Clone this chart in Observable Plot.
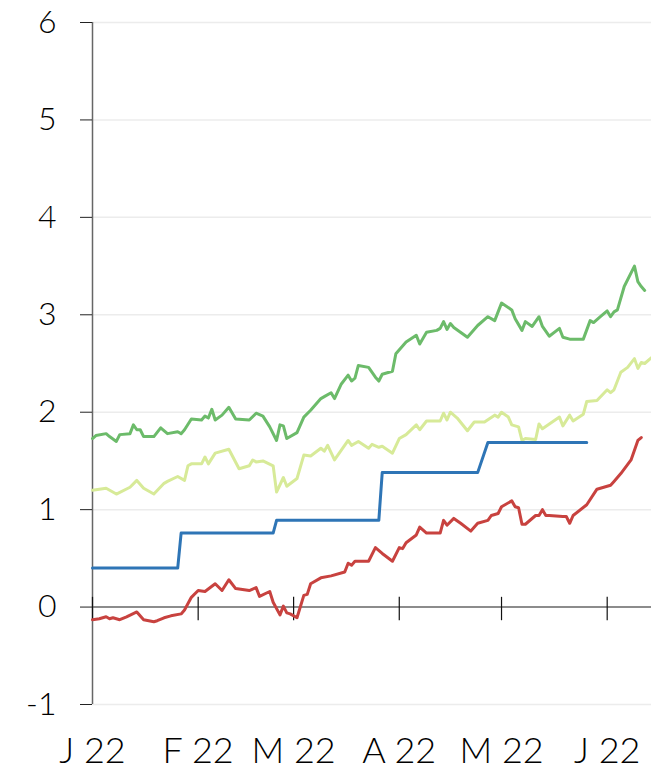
<!DOCTYPE html>
<html><head><meta charset="utf-8">
<script src="https://cdn.jsdelivr.net/npm/d3@7"></script>
<script src="https://cdn.jsdelivr.net/npm/@observablehq/plot@0.6"></script>
<style>body{margin:0;background:#fff} svg text{font-weight:300}</style>
</head><body><div id="chart"></div>
<script>
const year = 2022;
const yTicks = [-1, 0, 1, 2, 3, 4, 5, 6];
const gridValues = [-1, 1, 2, 3, 4, 5, 6];
const monthTicks = ["01-01", "02-01", "03-01", "04-01", "05-01", "06-01"];
const monthLabels = ["J 22", "F 22", "M 22", "A 22", "M 22", "J 22"];
const xDomain = ["01-01", "06-14"];

const greenDates = ["01-01","01-02","01-05","01-06","01-08","01-09","01-12","01-13","01-14","01-15","01-16","01-19","01-21","01-23","01-26","01-27","01-28","01-30","02-02","02-03","02-04","02-05","02-06","02-08","02-10","02-12","02-16","02-18","02-20","02-22","02-24","02-25","02-26","02-27","03-02","03-04","03-06","03-09","03-10","03-12","03-13","03-15","03-17","03-18","03-19","03-20","03-23","03-25","03-26","03-27","03-30","03-31","04-03","04-06","04-07","04-09","04-12","04-13","04-14","04-15","04-16","04-17","04-21","04-24","04-27","04-29","05-01","05-04","05-05","05-07","05-08","05-10","05-12","05-13","05-15","05-18","05-19","05-21","05-25","05-27","05-28","05-30","06-01","06-02","06-03","06-04","06-06","06-09","06-10","06-11","06-12"];
const greenValues = [1.73,1.76,1.78,1.75,1.70,1.77,1.78,1.87,1.82,1.82,1.75,1.75,1.84,1.78,1.80,1.78,1.82,1.93,1.92,1.96,1.94,2.03,1.92,1.97,2.05,1.93,1.92,1.99,1.96,1.85,1.71,1.87,1.86,1.73,1.79,1.95,2.02,2.14,2.16,2.20,2.14,2.29,2.38,2.32,2.35,2.48,2.46,2.36,2.32,2.39,2.42,2.60,2.72,2.79,2.70,2.82,2.84,2.86,2.93,2.85,2.91,2.87,2.77,2.89,2.98,2.94,3.12,3.05,2.96,2.84,2.93,2.88,2.98,2.88,2.78,2.86,2.77,2.75,2.75,2.94,2.92,2.98,3.04,2.98,3.03,3.05,3.29,3.50,3.34,3.29,3.25];

const lightDates = ["01-01","01-05","01-08","01-12","01-14","01-16","01-19","01-22","01-23","01-26","01-28","01-29","01-30","02-02","02-03","02-04","02-06","02-10","02-13","02-16","02-17","02-18","02-20","02-23","02-24","02-26","02-27","03-02","03-04","03-06","03-09","03-10","03-11","03-13","03-15","03-17","03-18","03-20","03-23","03-24","03-26","03-27","03-30","04-01","04-03","04-06","04-07","04-09","04-13","04-14","04-15","04-16","04-18","04-21","04-23","04-26","04-29","04-30","05-01","05-03","05-04","05-06","05-07","05-08","05-11","05-12","05-13","05-18","05-19","05-21","05-22","05-25","05-26","05-29","06-01","06-02","06-03","06-05","06-07","06-09","06-10","06-11","06-12","06-14"];
const lightValues = [1.20,1.22,1.16,1.23,1.30,1.22,1.16,1.27,1.29,1.34,1.30,1.45,1.47,1.47,1.54,1.47,1.58,1.62,1.42,1.45,1.51,1.49,1.50,1.45,1.18,1.33,1.24,1.32,1.56,1.55,1.63,1.60,1.66,1.51,1.61,1.71,1.66,1.70,1.63,1.67,1.64,1.65,1.58,1.73,1.77,1.87,1.82,1.91,1.91,1.99,1.92,2.00,1.94,1.81,1.90,1.90,1.97,1.95,2.00,1.95,1.87,1.85,1.71,1.73,1.72,1.88,1.83,1.95,1.86,1.97,1.91,1.98,2.11,2.12,2.23,2.20,2.23,2.41,2.46,2.55,2.45,2.51,2.50,2.56];

const blueDates = ["01-01","01-26","01-27","02-23","02-24","03-26","03-27","04-24","04-27","05-26"];
const blueValues = [0.40,0.40,0.76,0.76,0.89,0.89,1.38,1.38,1.69,1.69];

const redDates = ["01-01","01-03","01-05","01-06","01-07","01-09","01-11","01-14","01-16","01-19","01-20","01-22","01-24","01-27","01-28","01-30","02-01","02-03","02-06","02-08","02-10","02-12","02-16","02-18","02-19","02-22","02-23","02-25","02-26","02-27","02-28","03-02","03-04","03-05","03-06","03-09","03-12","03-16","03-17","03-18","03-19","03-23","03-25","03-27","03-30","04-01","04-02","04-03","04-06","04-07","04-09","04-13","04-14","04-15","04-17","04-19","04-22","04-24","04-27","04-28","04-30","05-01","05-04","05-05","05-06","05-07","05-08","05-11","05-12","05-13","05-14","05-15","05-19","05-20","05-21","05-22","05-26","05-29","05-31","06-02","06-03","06-05","06-08","06-10","06-11"];
const redValues = [-0.13,-0.12,-0.10,-0.12,-0.11,-0.13,-0.10,-0.05,-0.13,-0.15,-0.14,-0.11,-0.09,-0.07,-0.03,0.10,0.17,0.16,0.24,0.17,0.28,0.19,0.17,0.20,0.11,0.16,0.05,-0.08,0.01,-0.06,-0.07,-0.11,0.12,0.13,0.24,0.30,0.32,0.36,0.45,0.43,0.47,0.47,0.61,0.55,0.47,0.61,0.60,0.66,0.74,0.82,0.76,0.76,0.89,0.84,0.91,0.86,0.78,0.86,0.89,0.94,0.96,1.03,1.09,1.03,1.02,0.85,0.85,0.94,0.94,1.00,0.94,0.94,0.93,0.93,0.86,0.94,1.05,1.21,1.23,1.25,1.29,1.37,1.51,1.71,1.74];

const colors = {green: "#6cbb6a", light: "#d7ea98", blue: "#2e75b6", red: "#c8423f"};

const parse = s => { const [m, d] = s.split("-").map(Number); return new Date(Date.UTC(year, m - 1, d)); };
const rows = (dates, values, series) => dates.map((d, i) => ({date: parse(d), value: values[i], series}));
const data = [
  ...rows(greenDates, greenValues, "green"),
  ...rows(lightDates, lightValues, "light"),
  ...rows(blueDates, blueValues, "blue"),
  ...rows(redDates, redValues, "red")
];
const tickDates = monthTicks.map(parse);
const labelFor = d => monthLabels[tickDates.findIndex(t => +t === +d)];

const chart = Plot.plot({
  width: 651,
  height: 770,
  marginLeft: 92,
  marginRight: 0,
  marginTop: 22,
  marginBottom: 66,
  style: {fontFamily: "Lato, 'DejaVu Sans', sans-serif", background: "#fff", color: "#000"},
  x: {type: "utc", domain: xDomain.map(parse), label: null},
  y: {domain: [-1, 6], label: null},
  marks: [
    Plot.ruleY(gridValues, {stroke: "#ececec", strokeWidth: 1.5}),
    Plot.ruleY([0], {stroke: "#666", strokeWidth: 1.5}),
    Plot.ruleX([parse(xDomain[0])], {stroke: "#666", strokeWidth: 1.5}),
    Plot.ruleX(tickDates, {y1: -0.14, y2: 0.10, stroke: "#111", strokeWidth: 1.2}),
    Plot.axisY({ticks: yTicks, tickSize: 12, tickPadding: 24, fontSize: 32, tickFormat: d => String(d), stroke: "#222", fill: "#000", label: null}),
    Plot.axisX({ticks: tickDates, tickSize: 0, tickPadding: 33, fontSize: 36, tickFormat: labelFor, fill: "#000", label: null}),
    Plot.line(data, {x: "date", y: "value", z: "series", stroke: d => colors[d.series], strokeWidth: 3, strokeLinejoin: "round"})
  ]
});
document.getElementById("chart").append(chart);
</script>
</body></html>
